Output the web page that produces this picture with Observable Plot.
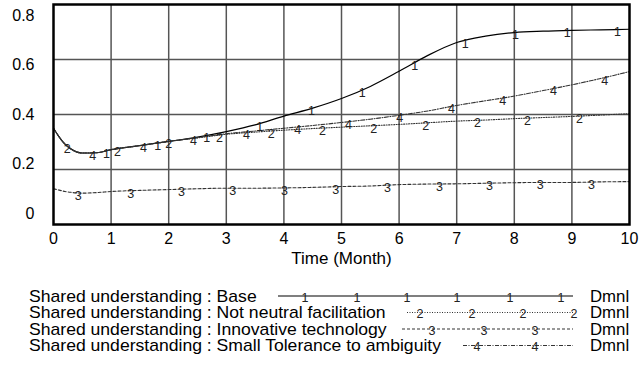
<!DOCTYPE html>
<html>
<head>
<meta charset="utf-8">
<script src="https://cdn.jsdelivr.net/npm/d3@7"></script>
<script src="https://cdn.jsdelivr.net/npm/@observablehq/plot@0.6"></script>
<style>
  html, body { margin: 0; padding: 0; background: #fff; }
  #root { width: 643px; font-family: "Liberation Sans", Arial, sans-serif; }
  svg { display: block; }
</style>
</head>
<body>
<div id="root"></div>
<script>
// ---- Data ----
const time = [0, 0.1, 0.2, 0.3, 0.5, 0.75, 1, 1.5, 2, 2.5, 3, 3.5, 4, 4.5, 5, 5.5, 6, 6.5, 7, 7.5, 8, 8.5, 9, 9.5, 10];

const base        = [0.35, 0.318, 0.292, 0.275, 0.26, 0.261, 0.272, 0.287, 0.302, 0.318, 0.338, 0.362, 0.394, 0.423, 0.458, 0.502, 0.557, 0.615, 0.662, 0.685, 0.698, 0.703, 0.706, 0.708, 0.71];
const notNeutral  = [0.35, 0.318, 0.292, 0.275, 0.26, 0.261, 0.272, 0.287, 0.302, 0.315, 0.328, 0.336, 0.343, 0.349, 0.354, 0.359, 0.364, 0.37, 0.376, 0.38, 0.385, 0.389, 0.393, 0.398, 0.403];
const innovative  = [0.13, 0.125, 0.12, 0.117, 0.114, 0.116, 0.12, 0.124, 0.127, 0.13, 0.132, 0.132, 0.133, 0.135, 0.138, 0.14, 0.145, 0.147, 0.148, 0.15, 0.152, 0.153, 0.153, 0.155, 0.156];
const smallTol    = [0.35, 0.318, 0.292, 0.275, 0.26, 0.261, 0.272, 0.287, 0.302, 0.316, 0.33, 0.34, 0.35, 0.36, 0.371, 0.383, 0.397, 0.413, 0.433, 0.45, 0.467, 0.487, 0.508, 0.531, 0.556];

// marker (numeral) positions along each line, in months
const markerT1 = [0.92, 1.81, 2.66, 3.58, 4.48, 5.36, 6.27, 7.15, 8.02, 8.92, 9.79];
const markerT2 = [0.24, 1.11, 2.0, 2.88, 3.78, 4.67, 5.56, 6.46, 7.36, 8.23, 9.13];
const markerT3 = [0.43, 1.34, 2.22, 3.11, 4.01, 4.9, 5.8, 6.7, 7.57, 8.45, 9.34];
const markerT4 = [0.68, 1.56, 2.43, 3.35, 4.24, 5.12, 6.01, 6.91, 7.8, 8.68, 9.57];

const seriesNames = [
  "Shared understanding : Base",
  "Shared understanding : Not neutral facilitation",
  "Shared understanding : Innovative technology",
  "Shared understanding : Small Tolerance to ambiguity"
];
const seriesNumerals = ["1", "2", "3", "4"];
const unitLabel = "Dmnl";

const xTicks = [0, 1, 2, 3, 4, 5, 6, 7, 8, 9, 10];
const xGrid = [1, 2, 3, 4, 5, 6, 7, 8, 9];
const yTicks = [0, 0.2, 0.4, 0.6, 0.8];
const yGrid = [0.2, 0.4, 0.6];
const xLabel = "Time (Month)";

// ---- Build tables ----
const seriesValues = [base, notNeutral, innovative, smallTol];
const markerTimes = [markerT1, markerT2, markerT3, markerT4];
const tables = seriesValues.map(vals => time.map((t, i) => ({t, v: vals[i]})));

function valueAt(vals, t) {
  const i = Math.min(d3.bisectRight(time, t), time.length - 1);
  const i0 = Math.max(i - 1, 0);
  const t0 = time[i0], t1 = time[i];
  const f = t1 === t0 ? 0 : (t - t0) / (t1 - t0);
  return vals[i0] + f * (vals[i] - vals[i0]);
}
const markerTables = markerTimes.map((ts, s) =>
  ts.map(t => ({t, v: valueAt(seriesValues[s], t), label: seriesNumerals[s]})));

const styles = [
  {stroke: "#000", strokeWidth: 1.2, dash: null},
  {stroke: "#333", strokeWidth: 1.1, dash: "1,1.5"},
  {stroke: "#333", strokeWidth: 1.1, dash: "3,2"},
  {stroke: "#333", strokeWidth: 1.1, dash: "4,1.5,1,1.5"}
];

const marks = [
  Plot.ruleX(xGrid, {stroke: "#555", strokeWidth: 1.5}),
  Plot.ruleY(yGrid, {stroke: "#555", strokeWidth: 1.5})
];
tables.forEach((tab, s) => {
  const st = styles[s];
  marks.push(Plot.line(tab, {x: "t", y: "v", stroke: st.stroke, strokeWidth: st.strokeWidth,
    strokeDasharray: st.dash, curve: "monotone-x"}));
});
markerTables.forEach(mt => {
  marks.push(Plot.text(mt, {x: "t", y: "v", text: "label", fontSize: 12.5, fill: "#222", dy: 3}));
});
yTicks.forEach(v => {
  marks.push(Plot.text([v], {y: d => d, text: d => d === 0 ? "0" : d.toFixed(1),
    frameAnchor: "left", dx: -19, textAnchor: "end", dy: (v - 0.4) * 27.5, fontSize: 16, fill: "#000"}));
});
marks.push(Plot.text([xLabel], {text: d => d, frameAnchor: "bottom", lineAnchor: "middle", dy: 34, fontSize: 17, fill: "#000"}));
marks.push(Plot.frame({stroke: "#000", strokeWidth: 2.5}));

const chart = Plot.plot({
  width: 643,
  height: 272,
  marginLeft: 53,
  marginRight: 14,
  marginTop: 4,
  marginBottom: 48,
  style: {fontFamily: "'Liberation Sans', Arial, sans-serif", fontSize: "16px", color: "#000", background: "#fff"},
  x: {domain: [0, 10], ticks: xTicks, tickSize: 0, tickPadding: 8, tickFormat: d => String(d), label: null},
  y: {domain: [0, 0.8], axis: null},
  marks
});
document.getElementById("root").appendChild(chart);

// ---- Legend (below the plot) ----
const legendRows = [
  {y: 24, lineFrom: 278, marks: [305, 357, 407, 457, 510, 561]},
  {y: 40.5, lineFrom: 407, marks: [420, 472, 523, 574]},
  {y: 57, lineFrom: 402, marks: [432, 484, 535]},
  {y: 73.5, lineFrom: 463, marks: [477, 535]}
];
const lineTo = 573;
const leg = d3.create("svg").attr("width", 643).attr("height", 96)
  .style("font-family", "'Liberation Sans', Arial, sans-serif");
legendRows.forEach((row, s) => {
  const st = styles[s];
  leg.append("text")
    .attr("transform", `translate(29,${row.y + 5.7}) scale(1.1,1)`)
    .attr("font-size", 16).attr("fill", "#000").text(seriesNames[s]);
  leg.append("line")
    .attr("x1", row.lineFrom).attr("x2", lineTo).attr("y1", row.y).attr("y2", row.y)
    .attr("stroke", st.stroke).attr("stroke-width", st.strokeWidth)
    .attr("stroke-dasharray", st.dash);
  row.marks.forEach(x => {
    leg.append("text").attr("x", x).attr("y", row.y + 1.5).attr("dy", "0.35em")
      .attr("text-anchor", "middle").attr("font-size", 12.5).attr("fill", "#222")
      .text(seriesNumerals[s]);
  });
  leg.append("text")
    .attr("transform", `translate(590,${row.y + 5.7}) scale(1.05,1)`)
    .attr("font-size", 16).attr("fill", "#000").text(unitLabel);
});
document.getElementById("root").appendChild(leg.node());
</script>
</body>
</html>
